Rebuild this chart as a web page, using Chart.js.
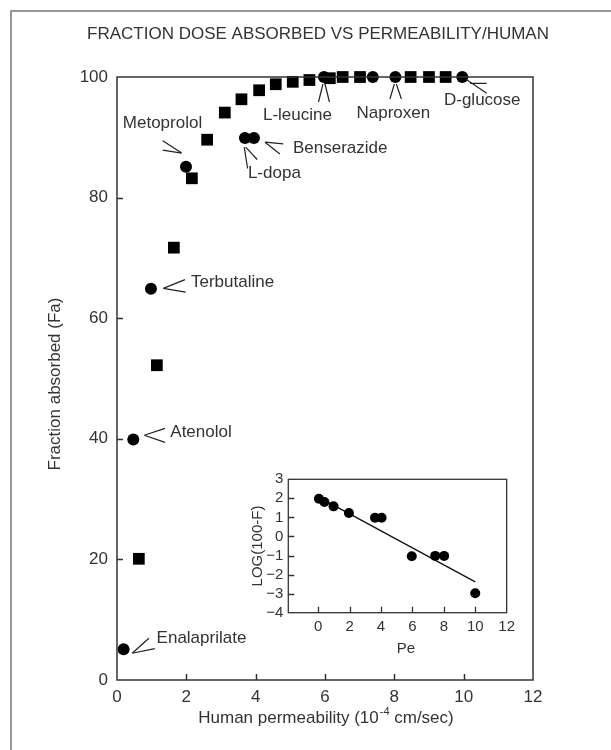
<!DOCTYPE html>
<html>
<head>
<meta charset="utf-8">
<script src="https://cdn.jsdelivr.net/npm/chart.js@4.4.0/dist/chart.umd.min.js"></script>
<style>
  body { margin: 0; background: #fff; }
  #wrap { position: relative; width: 611px; height: 750px; }
  #main { position: absolute; left: 0; top: 0; }
  #inset { position: absolute; left: 240px; top: 460px; }
</style>
</head>
<body>
<div id="wrap">
  <canvas id="main" width="611" height="750"></canvas>
  <canvas id="inset" width="280" height="200"></canvas>
</div>
<script>
// --- main plot: fraction absorbed vs human permeability ---
const squareX = [0.63, 1.15, 1.64, 2.16, 2.60, 3.11, 3.59, 4.10, 4.58, 5.07, 5.55, 6.14, 6.51, 7.01, 8.47, 9.00, 9.48];
const squareY = [20.1, 52.2, 71.7, 83.2, 89.6, 94.1, 96.3, 97.8, 98.8, 99.2, 99.5, 99.8, 100, 100, 100, 100, 100];

const circleX = [0.19, 0.47, 0.98, 1.99, 3.69, 3.95, 5.97, 7.38, 8.03, 9.96];
const circleY = [5.1, 39.9, 64.9, 85.1, 89.9, 89.9, 100, 100, 100, 100];
const circleNames = ['Enalaprilate', 'Atenolol', 'Terbutaline', 'Metoprolol', 'L-dopa', 'Benserazide', 'L-leucine', '', 'Naproxen', 'D-glucose'];

const xTicks = [0, 2, 4, 6, 8, 10, 12];
const yTicks = [0, 20, 40, 60, 80, 100];

// --- inset: LOG(100-F) vs Pe ---
const insetX = [0.05, 0.40, 0.98, 1.96, 3.62, 4.04, 5.96, 7.45, 8.02, 10.0];
const insetY = [1.98, 1.81, 1.58, 1.23, 0.98, 0.98, -1.04, -1.02, -1.02, -2.98];
const fitX = [0.3, 10.0];
const fitY = [1.95, -2.38];
const insetXTicks = [0, 2, 4, 6, 8, 10, 12];
const insetYTicks = [-4, -3, -2, -1, 0, 1, 2, 3];

const TITLE = 'FRACTION DOSE ABSORBED VS PERMEABILITY/HUMAN';

const FONT = '"Liberation Sans", Arial, Helvetica, sans-serif';
const INK = '#333';

// where each label sits, in pixels from its point
const callouts = {
  'Enalaprilate': { tx: 33, ty: -11, align: 'left', lines: [[8.6, 4, 25.3, -11], [8.6, 4, 31.2, -0.6]] },
  'Atenolol':     { tx: 37, ty: -7.5, align: 'left', lines: [[11, -4.2, 31.7, -11], [11, -4.2, 31.7, 3]] },
  'Terbutaline':  { tx: 40, ty: -6, align: 'left', lines: [[12.3, -0.3, 34, -9], [12.3, -0.3, 34.7, 3.4]] },
  'Metoprolol':   { tx: -23.5, ty: -44, align: 'center', lines: [[-4.3, -13.8, -23.3, -26], [-4.3, -13.8, -23.3, -16.7]] },
  'L-dopa':       { tx: 3, ty: 35, align: 'left', lines: [[-0.7, 9.3, 2.7, 30.6], [0.7, 9.3, 12.3, 21.6]] },
  'Benserazide':  { tx: 39, ty: 10.5, align: 'left', lines: [[11, 4.3, 29.3, 6], [11, 4.3, 26, 16]] },
  'L-leucine':    { tx: -26.5, ty: 38, align: 'center', lines: [[-1, 7, -5.5, 25], [1, 7, 5.5, 25]] },
  'Naproxen':     { tx: -2, ty: 36, align: 'center', lines: [[-1, 7, -5.5, 22], [1, 7, 6, 22]] },
  'D-glucose':    { tx: -18.3, ty: 23.5, align: 'left', lines: [[3.7, 2.3, 24.4, 16.3], [7.7, 6.3, 24.4, 6.3]] }
};

function drawInwardTicks(ctx, scale, len) {
  const a = scale.chart.chartArea;
  ctx.beginPath();
  scale.ticks.forEach(t => {
    if (t.value <= scale.min || t.value >= scale.max) return;
    const p = Math.round(scale.getPixelForValue(t.value)) + 0.5;
    if (scale.isHorizontal()) { ctx.moveTo(p, a.bottom); ctx.lineTo(p, a.bottom - len); }
    else { ctx.moveTo(a.left, p); ctx.lineTo(a.left + len, p); }
  });
  ctx.stroke();
}

const mainDecor = {
  id: 'mainDecor',
  beforeDraw(chart) {
    const ctx = chart.ctx;
    ctx.save();
    ctx.strokeStyle = '#777';
    ctx.lineWidth = 1.5;
    ctx.beginPath();
    ctx.moveTo(11, 750); ctx.lineTo(11, 11); ctx.lineTo(611, 11);
    ctx.stroke();
    ctx.restore();
  },
  afterDraw(chart) {
    const { ctx, chartArea: a, scales: { x, y } } = chart;
    ctx.save();
    ctx.strokeStyle = INK;
    ctx.lineWidth = 1.5;
    ctx.strokeRect(a.left, a.top, a.right - a.left, a.bottom - a.top);
    drawInwardTicks(ctx, x, 6);
    drawInwardTicks(ctx, y, 6);

    ctx.fillStyle = INK;
    ctx.textBaseline = 'middle';
    ctx.font = '17px ' + FONT;
    ctx.textAlign = 'center';
    ctx.fillText(TITLE, 318, 34);

    // x axis title with superscript
    const s1 = 'Human permeability (10', sup = '-4', s2 = ' cm/sec)';
    const w1 = ctx.measureText(s1).width, w2 = ctx.measureText(s2).width;
    ctx.font = '11px ' + FONT;
    const ws = ctx.measureText(sup).width + 1;
    let tx = 326 - (w1 + ws + w2) / 2;
    ctx.textAlign = 'left';
    ctx.font = '17px ' + FONT;
    ctx.fillText(s1, tx, 718);
    ctx.font = '11px ' + FONT;
    ctx.fillText(sup, tx + w1 + 1, 712);
    ctx.font = '17px ' + FONT;
    ctx.fillText(s2, tx + w1 + ws, 718);

    // y axis title
    ctx.save();
    ctx.translate(55, 384);
    ctx.rotate(-Math.PI / 2);
    ctx.textAlign = 'center';
    ctx.fillText('Fraction absorbed (Fa)', 0, 0);
    ctx.restore();

    // callouts
    ctx.strokeStyle = '#222';
    ctx.lineWidth = 1.2;
    circleNames.forEach((name, i) => {
      const c = callouts[name];
      if (!c) return;
      const px = x.getPixelForValue(circleX[i]);
      const py = y.getPixelForValue(circleY[i]);
      ctx.beginPath();
      c.lines.forEach(l => { ctx.moveTo(px + l[0], py + l[1]); ctx.lineTo(px + l[2], py + l[3]); });
      ctx.stroke();
      ctx.textAlign = c.align;
      ctx.fillText(name, px + c.tx, py + c.ty);
    });
    ctx.restore();
  }
};

new Chart(document.getElementById('main'), {
  type: 'scatter',
  data: {
    datasets: [
      {
        data: circleX.map((v, i) => ({ x: v, y: circleY[i] })),
        pointStyle: 'circle', pointRadius: 6, backgroundColor: '#000', borderWidth: 0, clip: false
      },
      {
        data: squareX.map((v, i) => ({ x: v, y: squareY[i] })),
        pointStyle: 'rect', pointRadius: 8.3, backgroundColor: '#000', borderWidth: 0, clip: false
      }
    ]
  },
  options: {
    responsive: false,
    devicePixelRatio: 1,
    animation: false,
    events: [],
    layout: { padding: { left: 0, top: 77, right: 78, bottom: 0 } },
    plugins: { legend: { display: false }, tooltip: { enabled: false } },
    scales: {
      x: {
        type: 'linear', min: 0, max: 12,
        afterBuildTicks(s) { s.ticks = xTicks.map(v => ({ value: v })); },
        afterFit(s) { s.height = 70; },
        grid: { display: false, drawTicks: false }, border: { display: false },
        ticks: { color: INK, font: { family: FONT, size: 17 }, padding: 7, maxRotation: 0, autoSkip: false }
      },
      y: {
        type: 'linear', min: 0, max: 100,
        afterBuildTicks(s) { s.ticks = yTicks.map(v => ({ value: v })); },
        afterFit(s) { s.width = 117; },
        grid: { display: false, drawTicks: false }, border: { display: false },
        ticks: { color: INK, font: { family: FONT, size: 17 }, padding: 9, autoSkip: false }
      }
    }
  },
  plugins: [mainDecor]
});

const insetDecor = {
  id: 'insetDecor',
  beforeDraw(chart) {
    const { ctx, chartArea: a } = chart;
    ctx.save();
    ctx.fillStyle = '#fff';
    ctx.fillRect(a.left, a.top, a.right - a.left, a.bottom - a.top);
    ctx.restore();
  },
  afterDraw(chart) {
    const { ctx, chartArea: a, scales: { x, y } } = chart;
    ctx.save();
    ctx.strokeStyle = INK;
    ctx.lineWidth = 1.3;
    ctx.strokeRect(a.left, a.top, a.right - a.left, a.bottom - a.top);
    drawInwardTicks(ctx, x, 6);
    drawInwardTicks(ctx, y, 6);
    ctx.fillStyle = INK;
    ctx.font = '15px ' + FONT;
    ctx.textBaseline = 'middle';
    ctx.textAlign = 'center';
    ctx.fillText('Pe', 166, 189);
    ctx.translate(18, 86);
    ctx.rotate(-Math.PI / 2);
    ctx.fillText('LOG(100-F)', 0, 0);
    ctx.restore();
  }
};

new Chart(document.getElementById('inset'), {
  type: 'scatter',
  data: {
    datasets: [
      {
        data: insetX.map((v, i) => ({ x: v, y: insetY[i] })),
        pointStyle: 'circle', pointRadius: 5, backgroundColor: '#000', borderWidth: 0, clip: false
      },
      {
        type: 'line',
        data: fitX.map((v, i) => ({ x: v, y: fitY[i] })),
        borderColor: '#111', borderWidth: 1.3, pointRadius: 0, fill: false
      }
    ]
  },
  options: {
    responsive: false,
    devicePixelRatio: 1,
    animation: false,
    events: [],
    layout: { padding: { left: 0, top: 19.3, right: 13.3, bottom: 0 } },
    plugins: { legend: { display: false }, tooltip: { enabled: false } },
    scales: {
      x: {
        type: 'linear', min: -1.9, max: 12,
        afterBuildTicks(s) { s.ticks = insetXTicks.map(v => ({ value: v })); },
        afterFit(s) { s.height = 47.3; },
        grid: { display: false, drawTicks: false }, border: { display: false },
        ticks: { color: INK, font: { family: FONT, size: 15 }, padding: 5, maxRotation: 0, autoSkip: false }
      },
      y: {
        type: 'linear', min: -4, max: 3,
        afterBuildTicks(s) { s.ticks = insetYTicks.map(v => ({ value: v })); },
        afterFit(s) { s.width = 48.3; },
        grid: { display: false, drawTicks: false }, border: { display: false },
        ticks: {
          color: INK, font: { family: FONT, size: 15 }, padding: 5, autoSkip: false,
          callback: v => (v < 0 ? '\u2212' + Math.abs(v) : String(v))
        }
      }
    }
  },
  plugins: [insetDecor]
});
</script>
</body>
</html>
